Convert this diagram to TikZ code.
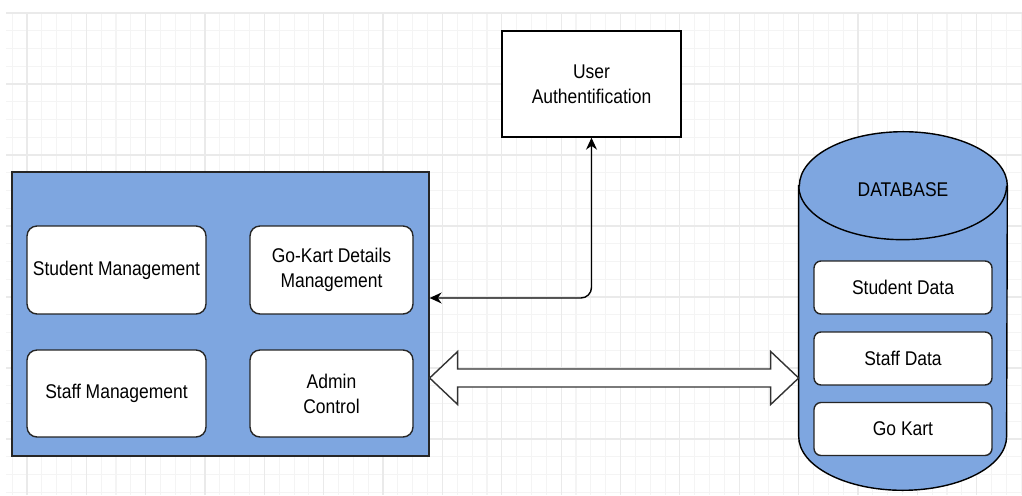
\documentclass[tikz,border=0pt]{standalone}
\usepackage{fontspec}
\setmainfont{Liberation Sans}[FakeStretch=0.88]
\usetikzlibrary{arrows.meta,calc}

\definecolor{boxblue}{HTML}{7EA6E0}
\definecolor{gridminor}{HTML}{F4F4F4}
\definecolor{gridmajor}{HTML}{EAEAEA}

\tikzset{
    modulebox/.style={draw=black!85,fill=white,thick,rounded corners=0.2cm,
        align=center,font=\fontsize{11.3}{14.2}\selectfont,inner sep=0pt},
    plainbox/.style={draw=black,fill=white,thick,align=center,
        font=\fontsize{11.3}{14.2}\selectfont,inner sep=0pt}
}

\begin{document}
\begin{tikzpicture}[x=0.02cm,y=0.02cm]
            \useasboundingbox (0,0) rectangle (1022,495);
            % background grid
            \foreach \i in {0,...,68}
                \draw[gridminor,line width=0.6pt] (12.1+14.84*\i,0) -- (12.1+14.84*\i,483);
            \foreach \j in {0,...,27}
                \draw[gridminor,line width=0.6pt] (6,482-17.75*\j) -- (1022,482-17.75*\j);
            \foreach \i in {0,...,16}
                \draw[gridmajor,line width=0.7pt] (27+59.35*\i,0) -- (27+59.35*\i,483);
            \foreach \j in {0,...,6}
                \draw[gridmajor,line width=0.7pt] (6,482-71*\j) -- (1022,482-71*\j);

            % management block
            \node[draw=black!85,fill=boxblue,thick,minimum width=8.34cm,minimum height=5.68cm]
                (main) at (220.5,181) {};
            \node[modulebox,minimum width=3.58cm,minimum height=1.76cm] (sm) at (116.5,225) {Student Management};
            \node[modulebox,minimum width=3.26cm,minimum height=1.76cm] (gk) at (331.5,225) {Go-Kart Details\\Management};
            \node[modulebox,minimum width=3.58cm,minimum height=1.74cm] (st) at (116.5,101.5) {Staff Management};
            \node[modulebox,minimum width=3.26cm,minimum height=1.74cm] (ad) at (331.5,101.5) {Admin\\Control};

            % authentication
            \node[plainbox,minimum width=3.58cm,minimum height=2.12cm] (ua) at (591.5,411) {User\\Authentification};

            % database cylinder
            \node[minimum width=4.16cm,minimum height=7.16cm,inner sep=0pt] (db) at (903,184) {};
            \filldraw[fill=boxblue,draw=black,thick]
                ($(db.north west)+(0,-54)$) -- ($(db.south west)+(0,54)$)
                arc[start angle=180,end angle=360,x radius=2.08cm,y radius=1.08cm]
                -- ($(db.north east)+(0,-54)$)
                arc[start angle=0,end angle=180,x radius=2.08cm,y radius=1.08cm] -- cycle;
            \draw[thick] ($(db.north west)+(0,-54)$)
                arc[start angle=180,end angle=360,x radius=2.08cm,y radius=1.08cm];
            \node[font=\fontsize{11.3}{14.2}\selectfont] (dbl) at (903,305) {DATABASE};
            \node[modulebox,minimum width=3.56cm,minimum height=1.06cm,rounded corners=0.14cm] (sd) at (903,207.5) {Student Data};
            \node[modulebox,minimum width=3.56cm,minimum height=1.06cm,rounded corners=0.14cm] (sf) at (903,136.5) {Staff Data};
            \node[modulebox,minimum width=3.56cm,minimum height=1.06cm,rounded corners=0.14cm] (gkd) at (903,66) {Go Kart};

            % connectors
            \draw[{Stealth[length=0.24cm,width=0.22cm]}-{Stealth[length=0.24cm,width=0.22cm]},thick,rounded corners=6pt]
                (ua.south) |- ($(main.east)+(0,16)$);
            \coordinate (la) at ($(main.east)+(0,-64)$);
            \coordinate (ra) at (db.west |- la);
            \filldraw[fill=white,draw=black!80,thick]
                (la) -- ($(la)+(28,26.5)$) -- ($(la)+(28,9)$) -- ($(ra)+(-28,9)$)
                -- ($(ra)+(-28,26.5)$) -- (ra) -- ($(ra)+(-28,-26.5)$) -- ($(ra)+(-28,-9)$)
                -- ($(la)+(28,-9)$) -- ($(la)+(28,-26.5)$) -- cycle;
        \end{tikzpicture}
\end{document}
